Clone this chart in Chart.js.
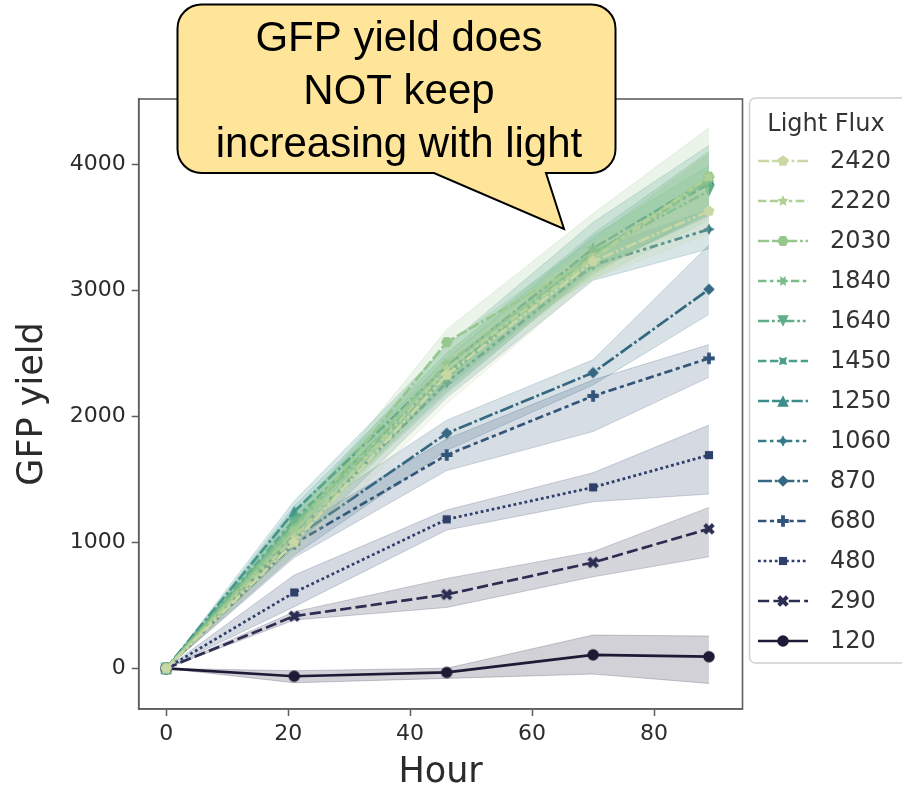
<!DOCTYPE html>
<html>
<head>
<meta charset="utf-8">
<script src="https://cdn.jsdelivr.net/npm/chart.js@4.4.1/dist/chart.umd.min.js"></script>
<style>
  html, body { margin: 0; padding: 0; background: #ffffff; overflow: hidden; }
  #wrap { position: relative; width: 902px; height: 789px; }
</style>
</head>
<body>
<div id="wrap"><canvas id="c" width="902" height="789"></canvas></div>
<script>
// Sampling times (hours) and axis ticks
const hours = [0, 21, 46, 70, 89];
const xTickValues = [0, 20, 40, 60, 80];
const yTickValues = [0, 1000, 2000, 3000, 4000];

// Light flux levels (legend order is reversed)
const fluxLevels = [120, 290, 480, 680, 870, 1060, 1250, 1450, 1640, 1840, 2030, 2220, 2420];

// Mean GFP yield per flux level, with lower / upper confidence bounds
const gfp120 = [0, -62, -32, 108, 93];
const lo120  = [0, -114, -79, -45, -119];
const hi120  = [0, -18, 2, 265, 257];

const gfp290 = [0, 415, 587, 841, 1108];
const lo290  = [0, 384, 484, 727, 886];
const hi290  = [0, 450, 714, 926, 1278];

const gfp480 = [0, 603, 1183, 1437, 1693];
const lo480  = [0, 489, 1098, 1323, 1384];
const hi480  = [0, 741, 1257, 1553, 1931];

const gfp680 = [0, 990, 1694, 2162, 2461];
const lo680  = [0, 880, 1570, 1880, 2310];
const hi680  = [0, 1110, 1820, 2290, 2570];

const gfp870 = [0, 1030, 1866, 2347, 3009];
const lo870  = [0, 900, 1730, 2250, 2810];
const hi870  = [0, 1170, 1970, 2450, 3360];

const gfp1060 = [0, 1060, 2270, 3201, 3485];
const lo1060  = [0, 960, 2150, 3080, 3330];
const hi1060  = [0, 1160, 2400, 3320, 3640];

const gfp1250 = [0, 1245, 2400, 3334, 3880];
const lo1250  = [0, 1130, 2230, 3180, 3600];
const hi1250  = [0, 1330, 2560, 3540, 4150];

const gfp1450 = [0, 1180, 2340, 3290, 3850];
const lo1450  = [0, 1070, 2200, 3150, 3620];
const hi1450  = [0, 1290, 2500, 3450, 4100];

const gfp1640 = [0, 1150, 2310, 3300, 3790];
const lo1640  = [0, 1050, 2180, 3170, 3590];
const hi1640  = [0, 1250, 2460, 3430, 3990];

const gfp1840 = [0, 1120, 2420, 3270, 3870];
const lo1840  = [0, 1020, 2270, 3130, 3650];
const hi1840  = [0, 1220, 2570, 3410, 4080];

const gfp2030 = [0, 1090, 2590, 3260, 3903];
const lo2030  = [0, 990, 2420, 3090, 3560];
const hi2030  = [0, 1190, 2690, 3610, 4290];

const gfp2220 = [0, 1040, 2380, 3250, 3900];
const lo2220  = [0, 950, 2250, 3110, 3700];
const hi2220  = [0, 1140, 2510, 3390, 4110];

const gfp2420 = [0, 1000, 2330, 3228, 3630];
const lo2420  = [0, 900, 2100, 3090, 3450];
const hi2420  = [0, 1090, 2450, 3360, 3820];

const meanSets  = [gfp120, gfp290, gfp480, gfp680, gfp870, gfp1060, gfp1250, gfp1450, gfp1640, gfp1840, gfp2030, gfp2220, gfp2420];
const lowerSets = [lo120, lo290, lo480, lo680, lo870, lo1060, lo1250, lo1450, lo1640, lo1840, lo2030, lo2220, lo2420];
const upperSets = [hi120, hi290, hi480, hi680, hi870, hi1060, hi1250, hi1450, hi1640, hi1840, hi2030, hi2220, hi2420];

// Palette, dash patterns (in line-width units) and markers per flux level
const palette = ['#201a36', '#2b2d52', '#2f3f6b', '#33547a', '#366882', '#387b88', '#3c8e8a',
                 '#4a9f8a', '#5fae89', '#7abc89', '#97c78e', '#b1d096', '#cad8a6'];
const dashUnits = [
  [], [4, 1.5], [1, 1], [3, 1.25, 1.5, 1.25], [5, 1, 1, 1],
  [3, 1.25, 1.25, 1.25, 1.25, 1.25], [4, 1, 4, 1, 1, 1], [3, 1.25, 3, 1.25, 1.25, 1.25],
  [4, 1, 1, 1, 1, 1], [3, 1.25, 1.25, 1.25, 1.25, 1.25, 1.25, 1.25], [4, 1, 4, 1, 4, 1, 1, 1],
  [3, 1.25, 3, 1.25, 1.25, 1.25, 1.25, 1.25], [4, 1, 4, 1, 1, 1, 1, 1]
];
const markerKinds = ['o', 'X', 'square', 'P', 'diamond', 'star4', 'tri_up', 'star4r', 'tri_down',
                     'star6', 'hexagon', 'star5', 'pentagon'];

const LW = 2.7;          // line width, px
const DASH_SCALE = 2.8;  // dash unit, px
const MS = 11.5;         // marker size, px

function hexToRgba(hex, a) {
  const n = parseInt(hex.slice(1), 16);
  return `rgba(${(n >> 16) & 255},${(n >> 8) & 255},${n & 255},${a})`;
}

// Marker shapes rendered to small canvases, used as point styles
function polyPath(g, n, r, rotDeg, inner) {
  const pts = inner ? 2 * n : n;
  for (let k = 0; k < pts; k++) {
    const th = Math.PI / 2 + (rotDeg * Math.PI / 180) + k * 2 * Math.PI / pts;
    const rr = inner && (k % 2 === 1) ? r * inner : r;
    const x = rr * Math.cos(th), y = -rr * Math.sin(th);
    if (k === 0) g.moveTo(x, y); else g.lineTo(x, y);
  }
  g.closePath();
}
function listPath(g, pts, s) {
  pts.forEach((p, k) => { const x = p[0] * s, y = -p[1] * s; if (k === 0) g.moveTo(x, y); else g.lineTo(x, y); });
  g.closePath();
}
function markerCanvas(kind, color, ms) {
  const S = Math.ceil(ms + 6);
  const cv = document.createElement('canvas');
  cv.width = S; cv.height = S;
  const g = cv.getContext('2d');
  g.translate(S / 2, S / 2);
  g.fillStyle = color;
  const r = ms / 2;
  g.beginPath();
  switch (kind) {
    case 'o': g.arc(0, 0, r, 0, Math.PI * 2); break;
    case 'X': listPath(g, [[0.25, 0], [0.5, 0.25], [0.25, 0.5], [0, 0.25], [-0.25, 0.5], [-0.5, 0.25],
                           [-0.25, 0], [-0.5, -0.25], [-0.25, -0.5], [0, -0.25], [0.25, -0.5], [0.5, -0.25]], ms); break;
    case 'P': listPath(g, [[-1, -3], [1, -3], [1, -1], [3, -1], [3, 1], [1, 1], [1, 3], [-1, 3], [-1, 1],
                           [-3, 1], [-3, -1], [-1, -1]].map(p => [p[0] / 6, p[1] / 6]), ms); break;
    case 'square': polyPath(g, 4, r, 45, 0); break;
    case 'diamond': polyPath(g, 4, r, 0, 0); break;
    case 'star4': polyPath(g, 4, r, 0, 0.5); break;
    case 'star4r': polyPath(g, 4, r, 45, 0.5); break;
    case 'tri_up': listPath(g, [[0, 1], [-1, -1], [1, -1]], r); break;
    case 'tri_down': listPath(g, [[0, -1], [-1, 1], [1, 1]], r); break;
    case 'star6': polyPath(g, 6, r, 30, 0.5); break;
    case 'hexagon': polyPath(g, 6, r, 30, 0); break;
    case 'star5': polyPath(g, 5, r, 0, 0.5); break;
    case 'pentagon': polyPath(g, 5, r, 0, 0); break;
  }
  g.fill();
  return cv;
}

const markers = fluxLevels.map((f, i) => markerCanvas(markerKinds[i], palette[i], MS));
const dashPx = dashUnits.map(d => d.map(v => v * DASH_SCALE));

// Build datasets: for every flux level a lower bound, a filled upper bound and the mean line.
// Drawing order: level by level, line first then its band.
const datasets = [];
const nLevels = fluxLevels.length;
fluxLevels.forEach((flux, i) => {
  const col = palette[i];
  const base = 1000 - i * 3;
  datasets.push({
    label: 'lo' + flux,
    data: hours.map((h, k) => ({ x: h, y: lowerSets[i][k] })),
    borderColor: hexToRgba(col, 0.22), borderWidth: 1, pointRadius: 0, fill: false,
    order: base - 2, tension: 0
  });
  datasets.push({
    label: 'hi' + flux,
    data: hours.map((h, k) => ({ x: h, y: upperSets[i][k] })),
    borderColor: hexToRgba(col, 0.22), borderWidth: 1, pointRadius: 0,
    backgroundColor: hexToRgba(col, 0.2), fill: '-1',
    order: base - 1, tension: 0
  });
  datasets.push({
    label: String(flux),
    data: hours.map((h, k) => ({ x: h, y: meanSets[i][k] })),
    borderColor: col, borderWidth: LW, borderDash: dashPx[i],
    borderCapStyle: 'butt', borderJoinStyle: 'round',
    pointStyle: markers[i], pointRadius: 6, pointHoverRadius: 6,
    fill: false, order: base, tension: 0
  });
});

// Frame on all four sides of the plot area
const framePlugin = {
  id: 'frame',
  afterDatasetsDraw(chart) {
    const { ctx, chartArea: a } = chart;
    ctx.save();
    ctx.strokeStyle = '#5e5e5e';
    ctx.lineWidth = 1.6;
    ctx.strokeRect(a.left, a.top, a.right - a.left, a.bottom - a.top);
    ctx.restore();
  }
};

function roundRectPath(ctx, x, y, w, h, r) {
  ctx.moveTo(x + r, y);
  ctx.lineTo(x + w - r, y);
  ctx.arcTo(x + w, y, x + w, y + r, r);
  ctx.lineTo(x + w, y + h - r);
  ctx.arcTo(x + w, y + h, x + w - r, y + h, r);
  ctx.lineTo(x + r, y + h);
  ctx.arcTo(x, y + h, x, y + h - r, r);
  ctx.lineTo(x, y + r);
  ctx.arcTo(x, y, x + r, y, r);
  ctx.closePath();
}

// Legend box to the right of the axes
const legendPlugin = {
  id: 'fluxLegend',
  afterDraw(chart) {
    const ctx = chart.ctx;
    const left = 749.5, top = 98, w = 170, h = 565;
    ctx.save();
    ctx.beginPath();
    roundRectPath(ctx, left, top, w, h, 6);
    ctx.fillStyle = 'rgba(255,255,255,0.85)';
    ctx.fill();
    ctx.strokeStyle = '#d0d0d0';
    ctx.lineWidth = 1.5;
    ctx.stroke();

    ctx.fillStyle = '#333333';
    ctx.font = '24px "DejaVu Sans"';
    ctx.textAlign = 'center';
    ctx.textBaseline = 'alphabetic';
    ctx.fillText('Light Flux', 826, 131);

    ctx.textAlign = 'left';
    ctx.textBaseline = 'middle';
    for (let r = 0; r < nLevels; r++) {
      const i = nLevels - 1 - r;
      const y = 161 + r * 40;
      ctx.beginPath();
      ctx.strokeStyle = palette[i];
      ctx.lineWidth = LW;
      ctx.lineCap = 'butt';
      ctx.setLineDash(dashPx[i]);
      ctx.moveTo(758, y);
      ctx.lineTo(808, y);
      ctx.stroke();
      ctx.setLineDash([]);
      const m = markers[i];
      ctx.drawImage(m, 783 - m.width / 2, y - m.height / 2);
      ctx.fillStyle = '#333333';
      ctx.fillText(String(fluxLevels[i]), 830, y + 1);
    }
    ctx.restore();
  }
};

// Speech-bubble annotation
const calloutLines = ['GFP yield does', 'NOT keep', 'increasing with light'];
const calloutPlugin = {
  id: 'callout',
  afterDraw(chart) {
    const ctx = chart.ctx;
    const x0 = 177.5, y0 = 4.5, x1 = 615.5, y1 = 173, r = 24;
    ctx.save();
    ctx.beginPath();
    ctx.moveTo(x0 + r, y0);
    ctx.lineTo(x1 - r, y0);
    ctx.arcTo(x1, y0, x1, y0 + r, r);
    ctx.lineTo(x1, y1 - r);
    ctx.arcTo(x1, y1, x1 - r, y1, r);
    ctx.lineTo(546, y1);
    ctx.lineTo(564, 229);
    ctx.lineTo(434, y1);
    ctx.lineTo(x0 + r, y1);
    ctx.arcTo(x0, y1, x0, y1 - r, r);
    ctx.lineTo(x0, y0 + r);
    ctx.arcTo(x0, y0, x0 + r, y0, r);
    ctx.closePath();
    ctx.fillStyle = '#ffe599';
    ctx.fill();
    ctx.strokeStyle = '#000000';
    ctx.lineWidth = 2;
    ctx.lineJoin = 'miter';
    ctx.stroke();

    ctx.fillStyle = '#000000';
    ctx.font = '42px "Liberation Sans", Arial, sans-serif';
    ctx.textAlign = 'center';
    ctx.textBaseline = 'alphabetic';
    const baselines = [51, 104, 157];
    calloutLines.forEach((t, k) => ctx.fillText(t, 399, baselines[k]));
    ctx.restore();
  }
};

const axisColor = '#5e5e5e';
const tickFont = { family: 'DejaVu Sans', size: 22 };

new Chart(document.getElementById('c'), {
  type: 'line',
  data: { datasets },
  options: {
    responsive: false,
    animation: false,
    events: [],
    layout: { padding: { left: 0, top: 99, right: 159.5, bottom: 0 } },
    plugins: {
      legend: { display: false },
      tooltip: { enabled: false },
      filler: { drawTime: 'beforeDatasetDraw', propagate: false }
    },
    scales: {
      x: {
        type: 'linear',
        min: -4.5, max: 94.5,
        afterBuildTicks: s => { s.ticks = xTickValues.map(v => ({ value: v })); },
        afterFit: s => { s.height = 80; },
        grid: { display: true, drawOnChartArea: false, drawTicks: true, tickLength: 7, tickWidth: 1.5, tickColor: axisColor },
        border: { display: true, color: axisColor, width: 1.6 },
        ticks: { font: tickFont, color: '#2b2b2b', padding: 5, maxRotation: 0, autoSkip: false,
                 callback: v => String(v) },
        title: { display: true, text: 'Hour', color: '#2b2b2b',
                 font: { family: 'DejaVu Sans', size: 35, lineHeight: 0.9 }, padding: { top: 0, bottom: 0 } }
      },
      y: {
        type: 'linear',
        min: -322, max: 4519,
        afterBuildTicks: s => { s.ticks = yTickValues.map(v => ({ value: v })); },
        afterFit: s => { s.width = 138.7; },
        grid: { display: true, drawOnChartArea: false, drawTicks: true, tickLength: 7, tickWidth: 1.5, tickColor: axisColor },
        border: { display: true, color: axisColor, width: 1.6 },
        ticks: { font: tickFont, color: '#2b2b2b', padding: 6, autoSkip: false,
                 callback: v => String(v) },
        title: { display: true, text: 'GFP yield', color: '#2b2b2b',
                 font: { family: 'DejaVu Sans', size: 35, lineHeight: 0.9 }, padding: { top: 17, bottom: 0 } }
      }
    }
  },
  plugins: [framePlugin, legendPlugin, calloutPlugin]
});
</script>
</body>
</html>
